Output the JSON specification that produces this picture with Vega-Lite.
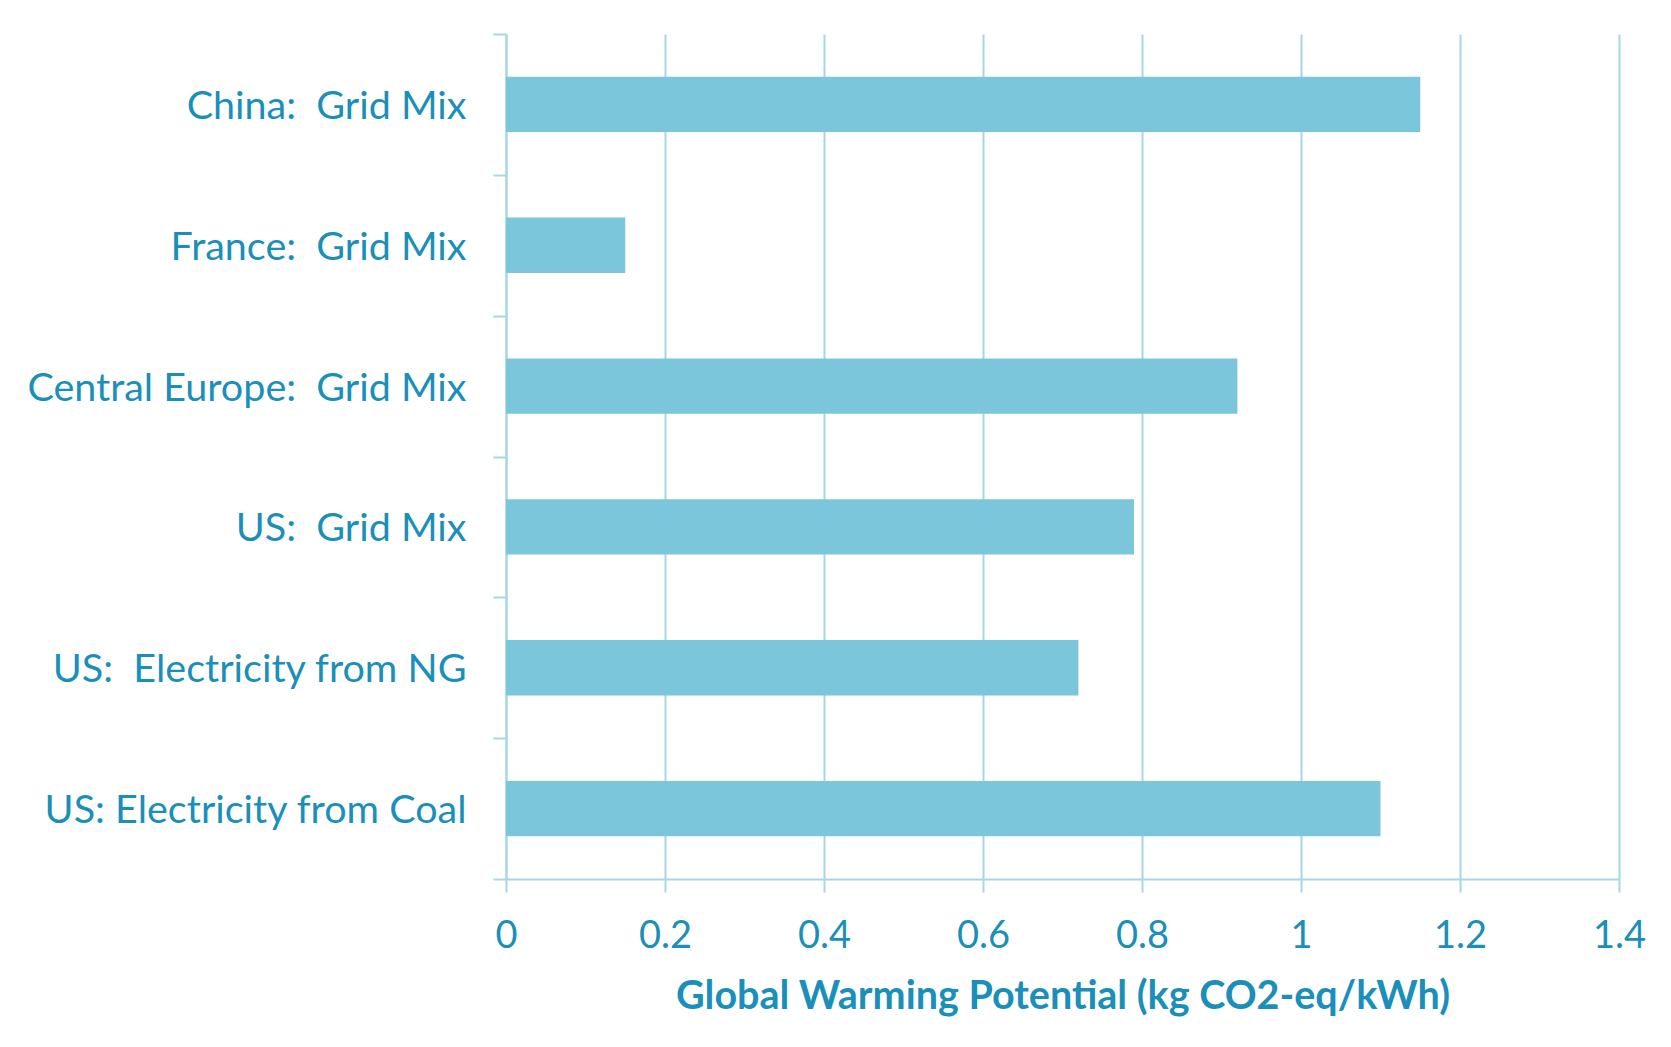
{
  "$schema": "https://vega.github.io/schema/vega-lite/v6.json",
  "width": 1113,
  "height": 845,
  "autosize": {"type": "none"},
  "padding": {"left": 506, "top": 34, "right": 52, "bottom": 168},
  "background": "white",
  "data": {
    "values": [
      {"source": "China:\u00a0 Grid Mix", "gwp": 1.15},
      {"source": "France:\u00a0 Grid Mix", "gwp": 0.15},
      {"source": "Central Europe:\u00a0 Grid Mix", "gwp": 0.92},
      {"source": "US:\u00a0 Grid Mix", "gwp": 0.79},
      {"source": "US:\u00a0 Electricity from NG", "gwp": 0.72},
      {"source": "US: Electricity from Coal", "gwp": 1.1}
    ]
  },
  "mark": {"type": "bar", "color": "#7BC6DA", "height": {"band": 0.393}},
  "encoding": {
    "y": {
      "field": "source",
      "type": "nominal",
      "sort": null,
      "scale": {"paddingInner": 0, "paddingOuter": 0},
      "axis": {
        "title": null,
        "tickBand": "extent",
        "tickSize": 13,
        "tickColor": "#A6D7E4",
        "tickWidth": 2,
        "domainColor": "#A6D7E4",
        "domainWidth": 2,
        "labelFont": "Lato",
        "labelFontSize": 39.5,
        "labelColor": "#1A8FB9",
        "labelPadding": 27,
        "labelOffset": 2,
        "labelLimit": 600,
        "grid": false
      }
    },
    "x": {
      "field": "gwp",
      "type": "quantitative",
      "scale": {"domain": [0, 1.4], "nice": false},
      "axis": {
        "values": [0, 0.2, 0.4, 0.6, 0.8, 1, 1.2, 1.4],
        "format": "~g",
        "title": "Global Warming Potential (kg CO2-eq/kWh)",
        "titleFont": "Lato",
        "titleFontSize": 39.5,
        "titleFontWeight": "bold",
        "titleColor": "#1A8FB9",
        "titlePadding": 22,
        "labelFont": "Lato",
        "labelFontSize": 38,
        "labelColor": "#1A8FB9",
        "labelPadding": 25,
        "labelFlush": false,
        "labelOverlap": false,
        "tickSize": 13,
        "tickColor": "#A6D7E4",
        "tickWidth": 2,
        "domainColor": "#A6D7E4",
        "domainWidth": 2,
        "grid": true,
        "gridColor": "#A6D7E4",
        "gridWidth": 2
      }
    }
  },
  "config": {"view": {"stroke": null}}
}
